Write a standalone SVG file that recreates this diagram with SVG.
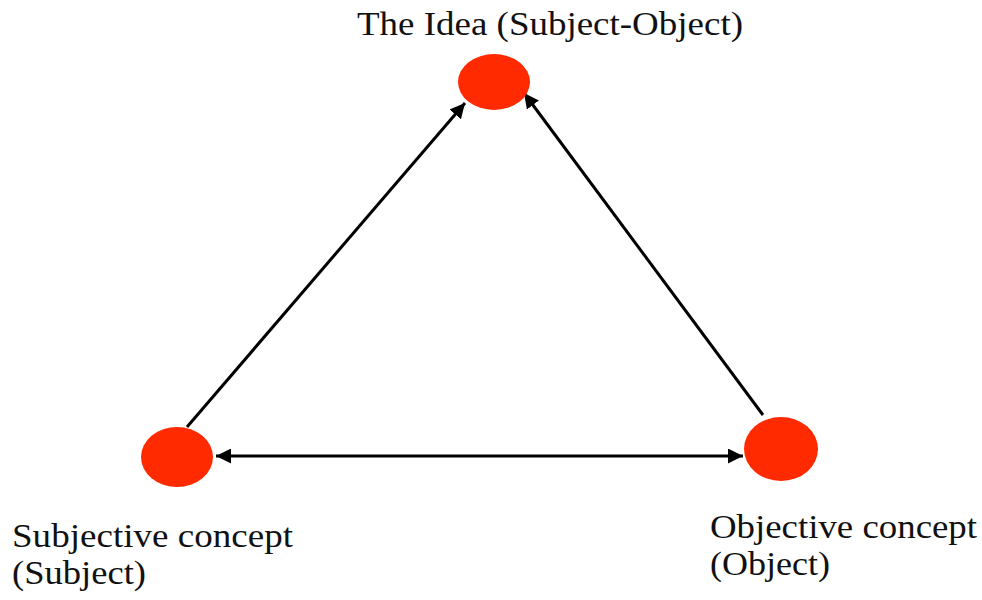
<svg xmlns="http://www.w3.org/2000/svg" width="982" height="600" viewBox="0 0 982 600">
<defs>
<style>
.node{fill:#FF2A00;}
.lbl{font-family:"Liberation Serif","Times New Roman",serif;font-size:34px;fill:#111;}
.edge{stroke:#000;stroke-width:3;fill:none;}
</style>
<marker id="ah" viewBox="0 0 10 10" refX="10" refY="5" markerWidth="5" markerHeight="5" orient="auto-start-reverse" markerUnits="strokeWidth">
<path d="M0,0 L10,5 L0,10 z" fill="#000"/>
</marker>
</defs>
<rect width="982" height="600" fill="#fff"/>
<g id="connectors">
<line class="edge" x1="187" y1="427" x2="465" y2="103" marker-end="url(#ah)"/>
<line class="edge" x1="763" y1="415" x2="524" y2="93" marker-end="url(#ah)"/>
<line class="edge" x1="216" y1="456" x2="743" y2="456" marker-start="url(#ah)" marker-end="url(#ah)"/>
</g>
<g id="idea">
<ellipse class="node" cx="494" cy="82" rx="36" ry="28"/>
<text class="lbl" x="357" y="35" textLength="386" lengthAdjust="spacingAndGlyphs">The Idea (Subject-Object)</text>
</g>
<g id="subject">
<ellipse class="node" cx="177" cy="457" rx="36" ry="30"/>
<text class="lbl" x="12" y="547" textLength="281" lengthAdjust="spacingAndGlyphs">Subjective concept</text>
<text class="lbl" x="12" y="584" textLength="134" lengthAdjust="spacingAndGlyphs">(Subject)</text>
</g>
<g id="object">
<ellipse class="node" cx="781" cy="449" rx="37" ry="32"/>
<text class="lbl" x="710" y="538" textLength="267" lengthAdjust="spacingAndGlyphs">Objective concept</text>
<text class="lbl" x="710" y="575" textLength="120" lengthAdjust="spacingAndGlyphs">(Object)</text>
</g>
</svg>
